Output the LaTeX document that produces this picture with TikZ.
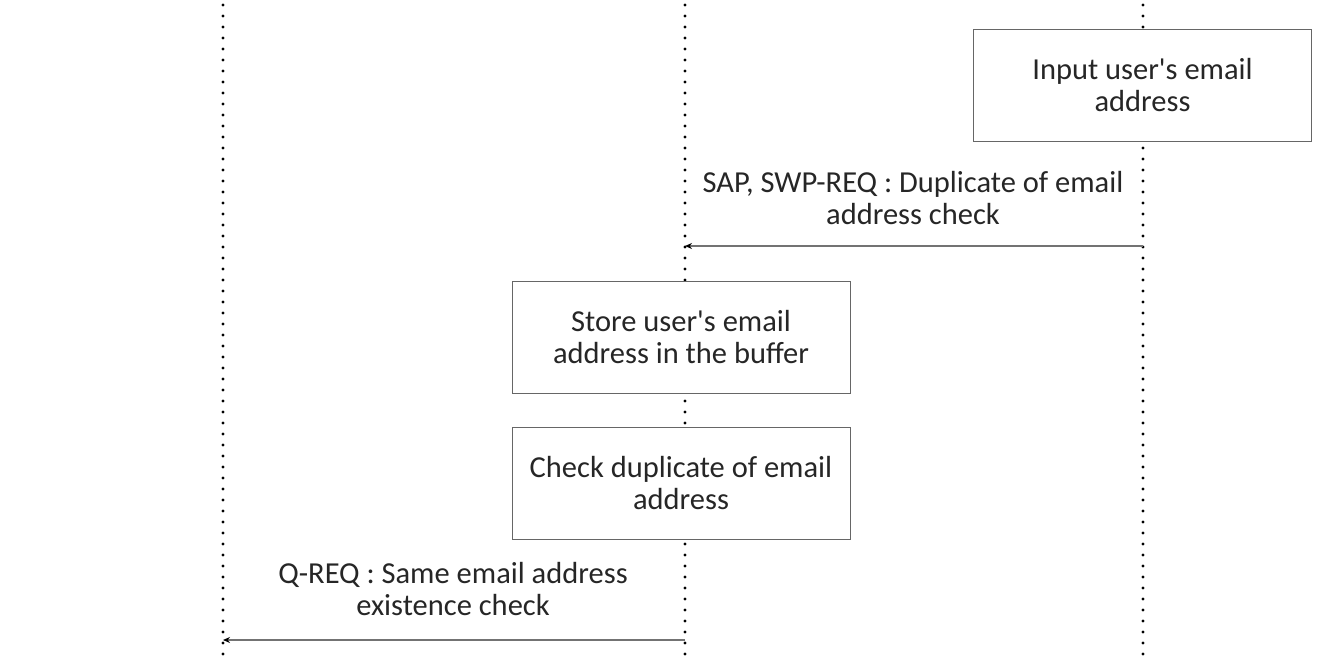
\documentclass[tikz,border=0pt]{standalone}
\usepackage{fontspec}
\newfontfamily\calfont{Carlito}
\usetikzlibrary{arrows.meta}
\begin{document}
\begin{tikzpicture}[x=1pt,y=-1pt,
  life/.style={line width=3.3pt,line cap=round,dash pattern=on 0pt off 11pt},
  act/.style={draw=black!60,line width=1pt,fill=white,minimum width=338pt,minimum height=112pt,align=center,font=\calfont\fontsize{30.5}{32}\selectfont,text=black!85,inner sep=0pt},
  msg/.style={draw=black!55,line width=1.4pt,-{Stealth[length=7pt,width=6pt,black]}},
  lab/.style={align=center,font=\calfont\fontsize{30.5}{32}\selectfont,text=black!85,inner sep=0pt,fill=white}]
\useasboundingbox (0,0) rectangle (1341,663);
\coordinate (t1) at (223,5); \coordinate (b1) at (223,663);
\coordinate (t2) at (685,5); \coordinate (b2) at (685,663);
\coordinate (t3) at (1143,5); \coordinate (b3) at (1143,663);
\draw[life] (t1) -- (b1);
\draw[life] (t2) -- (b2);
\draw[life] (t3) -- (b3);
\node[act] (input) at (1142.5,85.5) {Input user's email\\address};
\node[act] (store) at (681,337.5) {Store user's email\\address in the buffer};
\node[act] (check) at (681,483) {Check duplicate of email\\address};
\coordinate (m1s) at (1143,246); \coordinate (m1e) at (685,246);
\coordinate (m2s) at (685,640); \coordinate (m2e) at (223,640);
\draw[msg] (m1s) -- (m1e);
\draw[msg] (m2s) -- (m2e);
\node[lab] (l1) at (913,198) {SAP, SWP-REQ : Duplicate of email\\address check};
\node[lab] (l2) at (453,589) {Q-REQ : Same email address\\existence check};
\end{tikzpicture}
\end{document}
